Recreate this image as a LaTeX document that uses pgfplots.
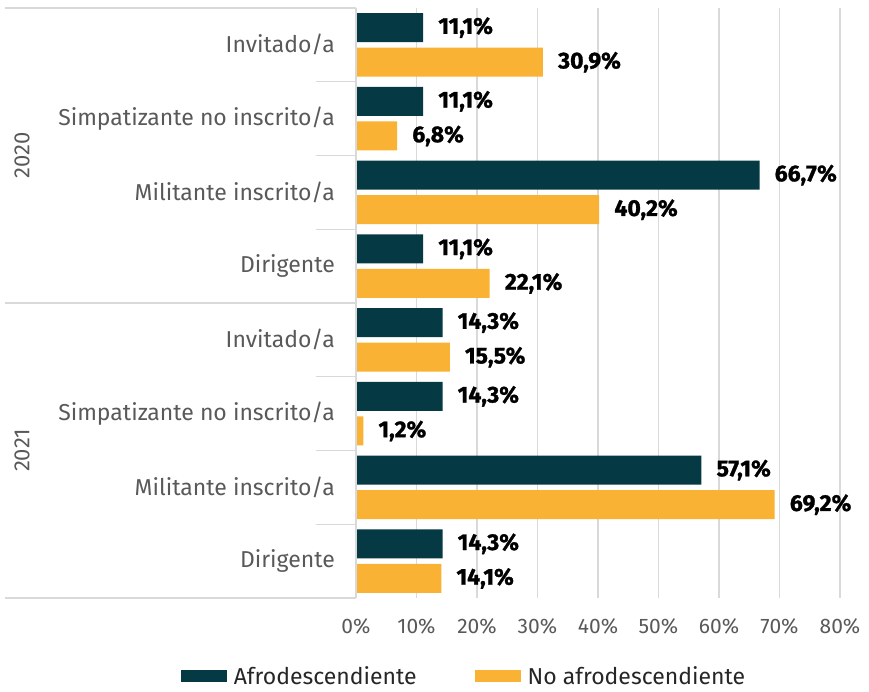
\documentclass[border=0pt]{standalone}
\usepackage{fontspec}
\setmainfont{Fira Sans}
\newfontfamily\valfont[FakeBold=1.2]{Fira Sans Bold}
\usepackage{pgfplots}
\pgfplotsset{compat=1.18}
\definecolor{afro}{HTML}{053A44}
\definecolor{noafro}{HTML}{F9B233}
\definecolor{gridc}{HTML}{D9D9D9}
\definecolor{labc}{HTML}{595959}
\begin{document}
\begin{tikzpicture}
\useasboundingbox (-356pt,-93pt) rectangle (513pt,598pt);
\begin{axis}[
  at={(0,0)}, anchor=south west,
  scale only axis, width=484pt, height=590pt,
  xmin=0, xmax=80, ymin=-0.5, ymax=7.5, y dir=reverse,
  xtick={0,10,...,80},
  xticklabel={\pgfmathprintnumber{\tick}\%},
  ytick={0,...,7},
  yticklabels={Invitado/a, Simpatizante no inscrito/a, Militante inscrito/a, Dirigente,
               Invitado/a, Simpatizante no inscrito/a, Militante inscrito/a, Dirigente},
  major tick length=0pt,
  axis line style={draw=none},
  xmajorgrids, grid style={gridc, line width=1.3pt},
  /pgf/number format/assume math mode=true,
  xticklabel style={font=\fontsize{21}{24}\selectfont, text=labc, inner sep=0pt, anchor=north, yshift=-20pt},
  yticklabel style={font=\fontsize{23}{26}\selectfont, text=labc, inner sep=0pt, anchor=east, xshift=-21pt},
  xbar, bar width=0.393,
  clip=false,
  point meta=x,
  nodes near coords={\pgfmathprintnumber[fixed,fixed zerofill,precision=1,use comma]{\pgfplotspointmeta}\%},
  every node near coord/.append style={font=\fontsize{23}{26}\valfont, text=black, anchor=west, inner sep=0pt, xshift=15pt},
  legend columns=2,
  legend style={draw=none, fill=none, at={(0.223,-0.133)}, anchor=center,
    font=\fontsize{23}{26}\selectfont, text=black!85, inner sep=1pt,
    /tikz/every even column/.append style={column sep=56pt}},
  legend image code/.code={\fill[#1] (0pt,-6pt) rectangle (46pt,6pt); \path (51pt,0pt);},
]
\addplot[fill=afro, draw=none, bar shift=-0.235] coordinates {
 (11.1,0) (11.1,1) (66.7,2) (11.1,3) (14.3,4) (14.3,5) (57.1,6) (14.3,7)};
\addlegendentry{Afrodescendiente}
\addplot[fill=noafro, draw=none, bar shift=0.235] coordinates {
 (30.9,0) (6.8,1) (40.2,2) (22.1,3) (15.5,4) (1.2,5) (69.2,6) (14.1,7)};
\addlegendentry{No afrodescendiente}
% axis line and separators
\draw[gridc, line width=1.3pt] (axis cs:0,-0.5) -- (axis cs:0,7.5);
\draw[gridc, line width=1.3pt] ([xshift=-351pt]axis cs:0,-0.5) -- (axis cs:0,-0.5);
\draw[gridc, line width=1.3pt] ([xshift=-351pt]axis cs:0,3.5) -- (axis cs:0,3.5);
\draw[gridc, line width=1.3pt] ([xshift=-351pt]axis cs:0,7.5) -- (axis cs:0,7.5);
\draw[gridc, line width=1.3pt] ([xshift=-40pt]axis cs:0,0.5) -- (axis cs:0,0.5);
\draw[gridc, line width=1.3pt] ([xshift=-40pt]axis cs:0,1.5) -- (axis cs:0,1.5);
\draw[gridc, line width=1.3pt] ([xshift=-40pt]axis cs:0,2.5) -- (axis cs:0,2.5);
\draw[gridc, line width=1.3pt] ([xshift=-40pt]axis cs:0,4.5) -- (axis cs:0,4.5);
\draw[gridc, line width=1.3pt] ([xshift=-40pt]axis cs:0,5.5) -- (axis cs:0,5.5);
\draw[gridc, line width=1.3pt] ([xshift=-40pt]axis cs:0,6.5) -- (axis cs:0,6.5);
\node[rotate=90, font=\fontsize{22}{25}\selectfont, text=labc] at ([xshift=-334pt]axis cs:0,1.5) {2020};
\node[rotate=90, font=\fontsize{22}{25}\selectfont, text=labc] at ([xshift=-334pt]axis cs:0,5.5) {2021};
\end{axis}
\end{tikzpicture}
\end{document}
